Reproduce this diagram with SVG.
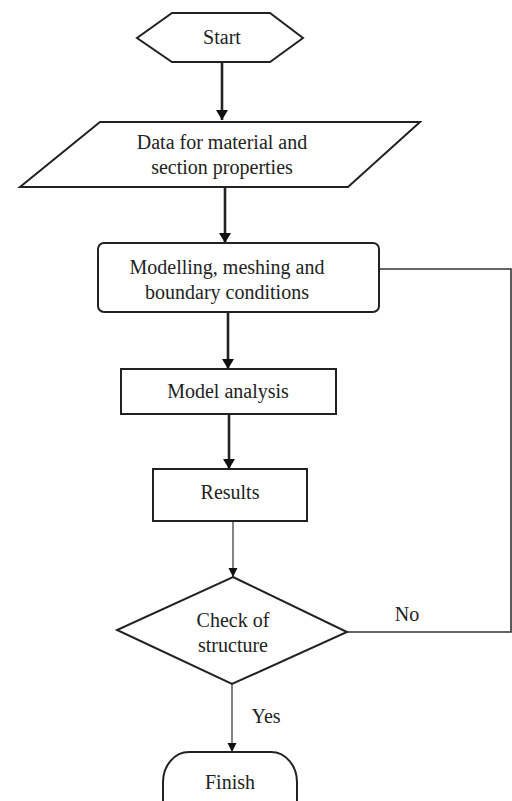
<svg xmlns="http://www.w3.org/2000/svg" width="512" height="801" viewBox="0 0 512 801">
<defs>
<style>
.shape{fill:#fff;stroke:#222;stroke-width:2}
.t{font-family:'Liberation Serif','Tinos','Nimbus Roman','Times New Roman','Noto Serif','DejaVu Serif','FreeSerif',serif;font-size:20px;fill:#222;text-anchor:middle}
.thick{stroke:#222;stroke-width:2.6;fill:none}
.thin{stroke:#333;stroke-width:1.2;fill:none}
</style>
<marker id="ah" markerUnits="userSpaceOnUse" markerWidth="12" markerHeight="12" refX="10" refY="6" orient="auto">
<path d="M0,0 L10,6 L0,12 Z" fill="#111"/>
</marker>
<marker id="ahs" markerUnits="userSpaceOnUse" markerWidth="10" markerHeight="10" refX="9" refY="5" orient="auto">
<path d="M0,0.5 L9,5 L0,9.5 Z" fill="#111"/>
</marker>
</defs>
<rect width="512" height="801" fill="#fff"/>
<g id="connectors">
<line class="thick" x1="222" y1="62" x2="222" y2="120" marker-end="url(#ah)"/>
<line class="thick" x1="225" y1="187" x2="225" y2="243" marker-end="url(#ah)"/>
<line class="thick" x1="228" y1="312" x2="228" y2="369" marker-end="url(#ah)"/>
<line class="thick" x1="229" y1="414" x2="229" y2="469" marker-end="url(#ah)"/>
<line class="thin" x1="233" y1="521" x2="233" y2="577" marker-end="url(#ahs)"/>
<line class="thin" x1="232" y1="684" x2="232" y2="752" marker-end="url(#ahs)"/>
<polyline class="thin" points="347,632 511,632 511,269 379,269" style="stroke-width:1.6"/>
<text class="t" x="407" y="621">No</text>
<text class="t" x="266" y="723">Yes</text>
</g>
<g id="start">
<polygon class="shape" points="172,13 270,13 303,38 270,62 172,62 137,38"/>
<text class="t" x="222" y="44">Start</text>
</g>
<g id="data">
<polygon class="shape" points="100,122 420,122 348,187 20,187"/>
<text class="t" x="222" y="149">Data for material and</text>
<text class="t" x="222" y="174">section properties</text>
</g>
<g id="modelling">
<rect class="shape" x="98" y="243" width="281" height="69" rx="6"/>
<text class="t" x="227" y="274">Modelling, meshing and</text>
<text class="t" x="227" y="299">boundary conditions</text>
</g>
<g id="analysis">
<rect class="shape" x="121" y="369" width="215" height="45"/>
<text class="t" x="228" y="398">Model analysis</text>
</g>
<g id="results">
<rect class="shape" x="153" y="469" width="154" height="52"/>
<text class="t" x="230" y="499">Results</text>
</g>
<g id="check">
<polygon class="shape" points="233,577 347,632 232,684 117,630"/>
<text class="t" x="233" y="627">Check of</text>
<text class="t" x="233" y="652">structure</text>
</g>
<g id="finish">
<rect class="shape" x="163" y="752" width="134" height="90" rx="26" ry="30"/>
<text class="t" x="230" y="789">Finish</text>
</g>
</svg>
